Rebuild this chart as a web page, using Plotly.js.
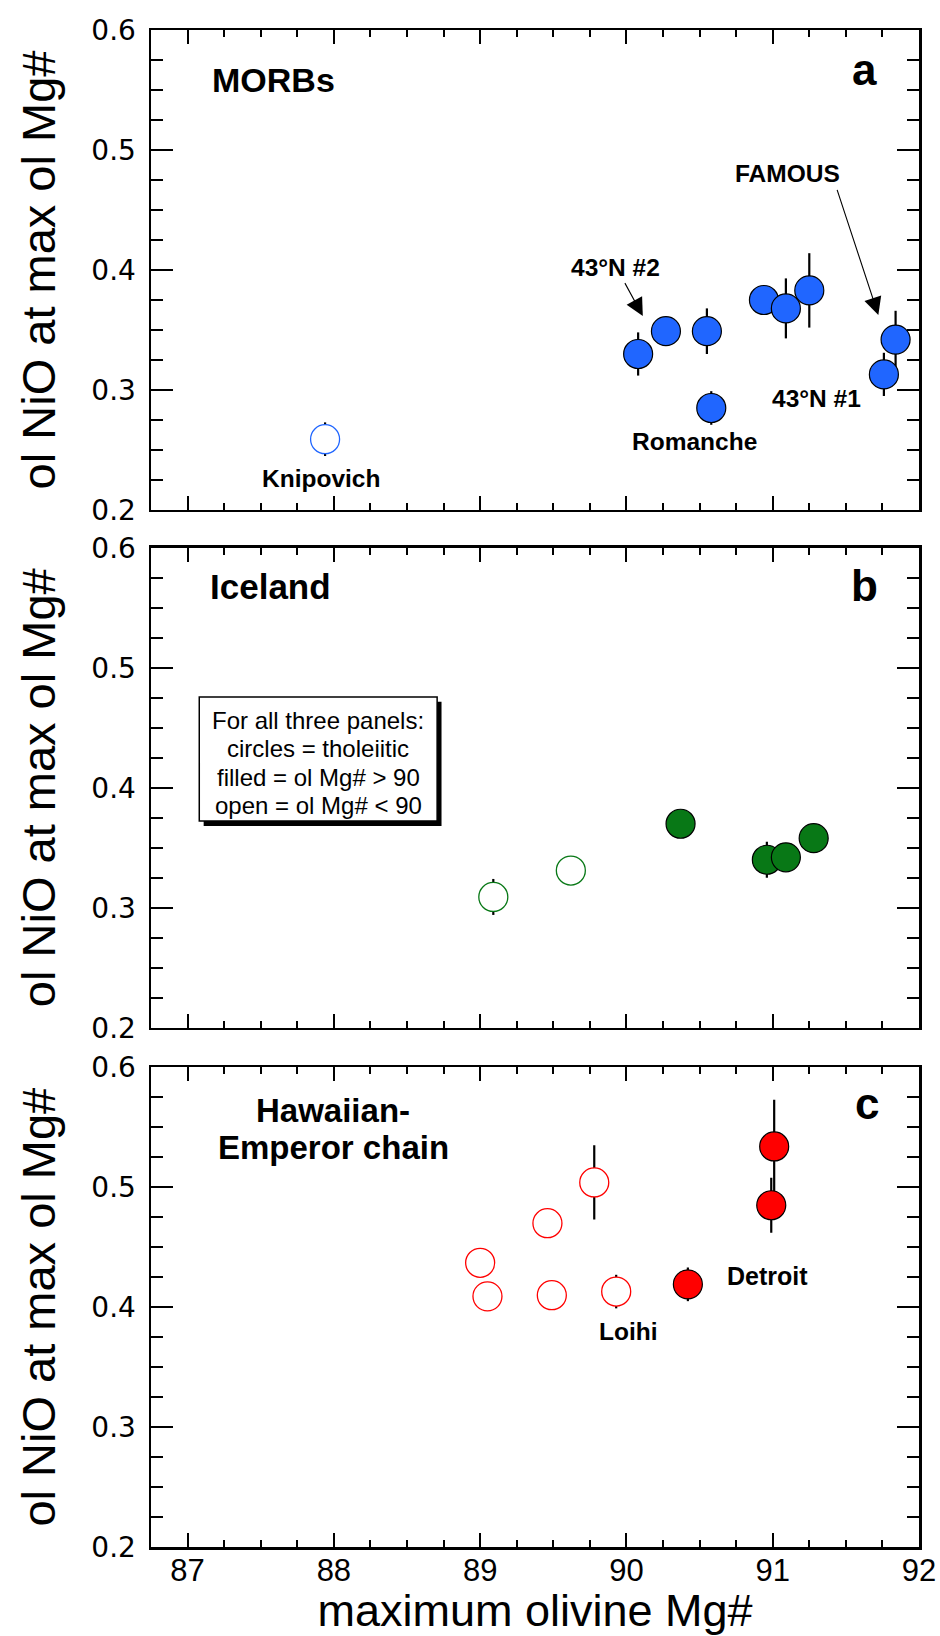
<!DOCTYPE html>
<html><head><meta charset="utf-8">
<script src="https://cdn.plot.ly/plotly-3.0.1.min.js"></script>
<style>body{margin:0;background:#fff}</style>
</head><body><div id="chart" style="width:940px;height:1636px"></div>
<script>
// Panel a: MORBs
const morbOpenX = [87.94];
const morbOpenY = [0.259];
const morbOpenErr = [0.014];
const morbFilledX = [90.08, 90.27, 90.55, 90.58, 90.94, 91.09, 91.25, 91.84, 91.76];
const morbFilledY = [0.330, 0.349, 0.349, 0.285, 0.375, 0.368, 0.383, 0.342, 0.313];
const morbFilledErr = [0.018, 0.008, 0.019, 0.014, 0.008, 0.025, 0.031, 0.024, 0.018];
// Panel b: Iceland
const iceOpenX = [89.09, 89.62];
const iceOpenY = [0.309, 0.331];
const iceOpenErr = [0.015, 0.008];
const iceFilledX = [90.37, 90.96, 91.09, 91.28];
const iceFilledY = [0.370, 0.340, 0.342, 0.358];
const iceFilledErr = [0.008, 0.015, 0.008, 0.008];
// Panel c: Hawaiian-Emperor chain
const hawOpenX = [89.00, 89.05, 89.46, 89.49, 89.78, 89.93];
const hawOpenY = [0.437, 0.409, 0.470, 0.410, 0.504, 0.413];
const hawOpenErr = [0.008, 0.008, 0.008, 0.008, 0.031, 0.014];
const hawFilledX = [90.42, 90.99, 91.01];
const hawFilledY = [0.419, 0.485, 0.534];
const hawFilledErr = [0.014, 0.023, 0.039];

const xTickVals = [87, 88, 89, 90, 91, 92];
const yTickVals = [0.2, 0.3, 0.4, 0.5, 0.6];
const yTitle = 'ol NiO at max ol Mg#';
const xTitle = 'maximum olivine Mg#';
const boxLines = ['For all three panels:', 'circles = tholeiitic', 'filled = ol Mg# &gt; 90', 'open = ol Mg# &lt; 90'];

const BLUE = 'rgb(32,102,255)', GREEN = 'rgb(8,120,22)', RED = 'rgb(255,0,0)';
const MS = 29;
const FONT = 'Liberation Sans, Arial, Helvetica, sans-serif';

function errBar(arr){ return {type:'data', array:arr, visible:true, color:'black', thickness:2.2, width:0}; }
function openTrace(x,y,e,c,ax){ return {x:x,y:y,error_y:errBar(e),mode:'markers',type:'scatter',xaxis:'x'+ax,yaxis:'y'+ax,
  marker:{size:MS,color:'white',line:{color:c,width:1.3}},showlegend:false,hoverinfo:'x+y'}; }
function filledTrace(x,y,e,c,ax){ return {x:x,y:y,error_y:errBar(e),mode:'markers',type:'scatter',xaxis:'x'+ax,yaxis:'y'+ax,
  marker:{size:MS,color:c,line:{color:'black',width:1.2}},showlegend:false,hoverinfo:'x+y'}; }

const data = [
  openTrace(morbOpenX, morbOpenY, morbOpenErr, BLUE, ''),
  filledTrace(morbFilledX, morbFilledY, morbFilledErr, BLUE, ''),
  openTrace(iceOpenX, iceOpenY, iceOpenErr, GREEN, '2'),
  filledTrace(iceFilledX, iceFilledY, iceFilledErr, GREEN, '2'),
  openTrace(hawOpenX, hawOpenY, hawOpenErr, RED, '3'),
  filledTrace(hawFilledX, hawFilledY, hawFilledErr, RED, '3')
];

function xAx(anchor, labels){
  return {range:[86.75,92], anchor:anchor, showline:true, linewidth:2.5, linecolor:'black', mirror:'ticks',
    ticks:'inside', ticklen:14, tickwidth:2, tickcolor:'black', tickvals:xTickVals, ticktext:xTickVals.map(String),
    showticklabels:labels, tickfont:{family:FONT,size:31,color:'black'}, ticklabelstandoff:-6,
    showgrid:false, zeroline:false,
    minor:{dtick:0.25, tick0:87, ticks:'inside', ticklen:7, tickwidth:2, tickcolor:'black', showgrid:false},
    title: labels ? {text:xTitle, font:{family:FONT,size:45,color:'black'}, standoff:14} : undefined};
}
function yAx(anchor, dom){
  return {range:[0.2,0.6], domain:dom, anchor:anchor, showline:true, linewidth:2.5, linecolor:'black', mirror:'ticks',
    ticks:'inside', ticklen:22, tickwidth:2, tickcolor:'black', tickvals:yTickVals, ticktext:yTickVals.map(v=>v.toFixed(1)),
    tickfont:{family:'DejaVu Sans, sans-serif',size:28,color:'black'}, ticklabelstandoff:7,
    showgrid:false, zeroline:false,
    minor:{dtick:0.025, tick0:0.2, ticks:'inside', ticklen:12, tickwidth:2, tickcolor:'black', showgrid:false},
    title:{text:yTitle, font:{family:FONT,size:47,color:'black'}, standoff:21}};
}

function lab(text,x,y,ax,size,bold){
  return {text:bold===false?text:'<b>'+text+'</b>', x:x, y:y, xref:'x'+ax, yref:'y'+ax, showarrow:false,
    xanchor:'center', yanchor:'middle', font:{family:FONT,size:size,color:'black'}};
}
function arrow(tx,ty,sx,sy,ax){
  return {text:'', x:tx, y:ty, ax:sx, ay:sy, xref:'x'+ax, yref:'y'+ax, axref:'x'+ax, ayref:'y'+ax,
    showarrow:true, arrowhead:2, arrowsize:3.2, arrowwidth:1.1, arrowcolor:'black', standoff:0, startstandoff:0};
}

const boxCX = 87.893, boxLineY = [0.4564, 0.4327, 0.4089, 0.3852];
const annotations = [
  lab('MORBs', 87.584, 0.5583, '', 34),
  lab('a', 91.63, 0.567, '', 44),
  lab('FAMOUS', 91.103, 0.480, '', 24.5),
  lab('Knipovich', 87.915, 0.2264, '', 24.5),
  lab('43°N #2', 89.925, 0.402, '', 24.5),
  lab('Romanche', 90.463, 0.2569, '', 24.5),
  lab('43°N #1', 91.298, 0.293, '', 24.5),
  arrow(90.112, 0.3617, 89.984, 0.3903, ''),
  arrow(91.722, 0.3625, 91.437, 0.468, ''),
  lab('Iceland', 87.567, 0.5675, '2', 35),
  lab('b', 91.63, 0.5683, '2', 44),
  lab('Hawaiian-', 87.995, 0.564, '3', 33),
  lab('Emperor chain', 87.995, 0.533, '3', 33),
  lab('c', 91.642, 0.5698, '3', 44),
  lab('Detroit', 90.964, 0.4263, '3', 25),
  lab('Loihi', 90.011, 0.3794, '3', 24.5)
];
boxLines.forEach((t,i)=>annotations.push(lab(t, boxCX, boxLineY[i], '2', 24, false)));

const boxL = 87.080, boxR = 88.706, boxT = 0.4756, boxB = 0.3722, shX = 0.03, shY = 0.004;
const shapes = [
  {type:'rect', xref:'x2', yref:'y2', x0:boxL+shX, x1:boxR+shX, y0:boxB-shY, y1:boxT-shY, fillcolor:'black', line:{width:0}, layer:'above'},
  {type:'rect', xref:'x2', yref:'y2', x0:boxL, x1:boxR, y0:boxB, y1:boxT, fillcolor:'white', line:{color:'black',width:1.5}, layer:'above'}
];

const layout = {
  width:940, height:1636, margin:{l:151, r:21, t:30, b:89}, paper_bgcolor:'white', plot_bgcolor:'white',
  font:{family:FONT, color:'black'},
  xaxis: xAx('y', false), yaxis: yAx('x', [0.6836, 1]),
  xaxis2: xAx('y2', false), yaxis2: yAx('x2', [0.3423, 0.6587]),
  xaxis3: xAx('y3', true), yaxis3: yAx('x3', [0, 0.3162]),
  annotations: annotations, shapes: shapes, showlegend:false
};
Plotly.newPlot('chart', data, layout, {displayModeBar:false, staticPlot:true});
</script></body></html>
